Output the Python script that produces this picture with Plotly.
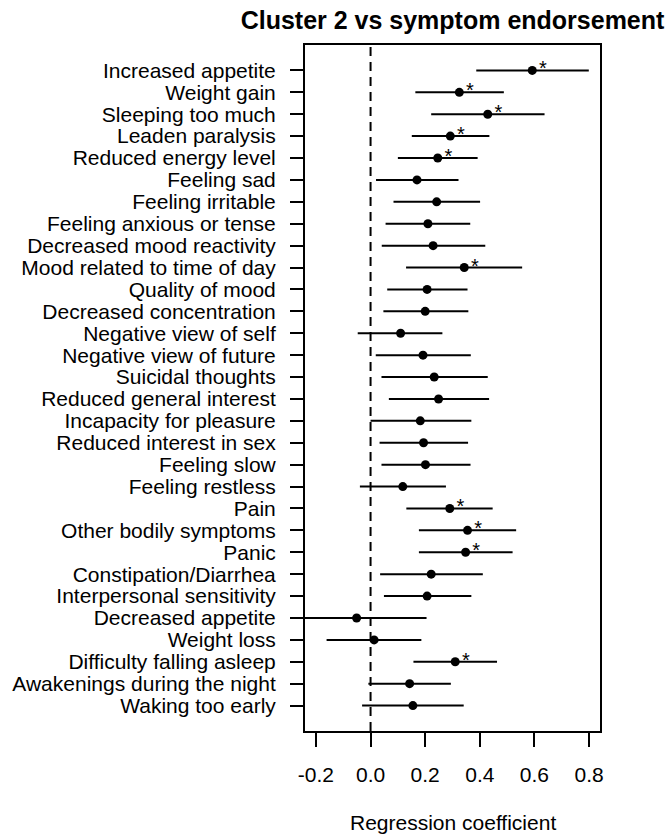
import plotly.graph_objects as go

symptoms = [
    "Increased appetite", "Weight gain", "Sleeping too much", "Leaden paralysis",
    "Reduced energy level", "Feeling sad", "Feeling irritable", "Feeling anxious or tense",
    "Decreased mood reactivity", "Mood related to time of day", "Quality of mood",
    "Decreased concentration", "Negative view of self", "Negative view of future",
    "Suicidal thoughts", "Reduced general interest", "Incapacity for pleasure",
    "Reduced interest in sex", "Feeling slow", "Feeling restless", "Pain",
    "Other bodily symptoms", "Panic", "Constipation/Diarrhea", "Interpersonal sensitivity",
    "Decreased appetite", "Weight loss", "Difficulty falling asleep",
    "Awakenings during the night", "Waking too early",
]
coef = [0.592, 0.325, 0.429, 0.292, 0.246, 0.170, 0.242, 0.210, 0.229, 0.343,
        0.207, 0.200, 0.110, 0.192, 0.233, 0.249, 0.182, 0.194, 0.201, 0.118,
        0.290, 0.355, 0.348, 0.222, 0.207, -0.051, 0.013, 0.310, 0.143, 0.155]
lower = [0.387, 0.164, 0.222, 0.151, 0.100, 0.020, 0.084, 0.055, 0.041, 0.130,
         0.061, 0.047, -0.047, 0.019, 0.040, 0.067, 0.000, 0.033, 0.040, -0.039,
         0.131, 0.177, 0.177, 0.035, 0.049, -0.307, -0.161, 0.157, -0.008, -0.031]
upper = [0.799, 0.488, 0.637, 0.435, 0.392, 0.322, 0.401, 0.365, 0.420, 0.555,
         0.355, 0.358, 0.263, 0.367, 0.429, 0.434, 0.369, 0.357, 0.366, 0.276,
         0.447, 0.533, 0.520, 0.411, 0.369, 0.205, 0.186, 0.463, 0.294, 0.341]
significant = [True, True, True, True, True, False, False, False, False, True,
               False, False, False, False, False, False, False, False, False, False,
               True, True, True, False, False, False, False, True, False, False]
x_ticks = [-0.2, 0.0, 0.2, 0.4, 0.6, 0.8]
x_ticklabels = ["-0.2", "0.0", "0.2", "0.4", "0.6", "0.8"]

n = len(symptoms)
ypos = [n - i for i in range(n)]

FONT = "Liberation Sans, Arial, sans-serif"

fig = go.Figure()

# CI segments
seg_x, seg_y = [], []
for lo, hi, y in zip(lower, upper, ypos):
    seg_x += [lo, hi, None]
    seg_y += [y, y, None]
fig.add_trace(go.Scatter(x=seg_x, y=seg_y, mode="lines",
                         line=dict(color="black", width=2), hoverinfo="skip",
                         showlegend=False))
# points
fig.add_trace(go.Scatter(x=coef, y=ypos, mode="markers",
                         marker=dict(color="black", size=9), showlegend=False,
                         cliponaxis=False))
# significance stars
sx = [c + 0.039 for c, s in zip(coef, significant) if s]
sy = [y for y, s in zip(ypos, significant) if s]
fig.add_trace(go.Scatter(x=sx, y=sy, mode="text", text=["*"] * len(sx),
                         textposition="middle center",
                         textfont=dict(family=FONT, size=20, color="black"),
                         showlegend=False, hoverinfo="skip"))

fig.add_vline(x=0, line=dict(color="black", width=2, dash="9px,6px"), layer="below")

fig.update_layout(
    width=672, height=834,
    margin=dict(l=303, r=72, t=45, b=103),
    plot_bgcolor="white", paper_bgcolor="white",
    font=dict(family=FONT, color="black", size=21),
    title=dict(text="<b>Cluster 2 vs symptom endorsement</b>", x=0.5, xanchor="center",
               xref="paper", y=0.976, yanchor="middle",
               font=dict(family=FONT, size=25, color="black")),
    annotations=[dict(text="Regression coefficient", xref="paper", yref="paper",
                      x=0.5, y=-0.134, xanchor="center", yanchor="middle",
                      showarrow=False, font=dict(family=FONT, size=21, color="black"))],
)
fig.update_xaxes(range=[-0.24, 0.84], tickvals=x_ticks, ticktext=x_ticklabels,
                 showgrid=False, zeroline=False, showline=True, linecolor="black",
                 linewidth=2, mirror=True, ticks="outside", ticklen=14, tickwidth=2,
                 tickcolor="black", ticklabelstandoff=10,
                 tickfont=dict(family=FONT, size=21, color="black"))
fig.update_yaxes(range=[-0.16, n + 1.16], tickvals=ypos, ticktext=symptoms,
                 showgrid=False, zeroline=False, showline=True, linecolor="black",
                 linewidth=2, mirror=True, ticks="outside", ticklen=13, tickwidth=2,
                 tickcolor="black", ticklabelstandoff=10,
                 tickfont=dict(family=FONT, size=21, color="black"))

fig.write_html("out.html")
